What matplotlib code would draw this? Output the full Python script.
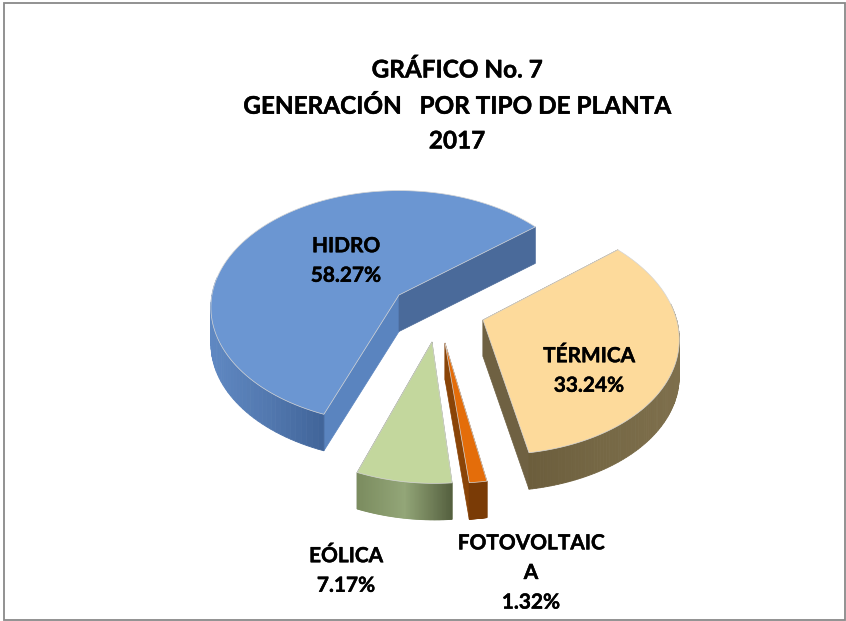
import numpy as np
import matplotlib
matplotlib.use('Agg')
import matplotlib.pyplot as plt
import matplotlib.patheffects as pe
from matplotlib.colors import to_rgb
from matplotlib.patches import Rectangle

plt.rcParams['font.family'] = ['Lato', 'DejaVu Sans']

labels = ['HIDRO', 'TÉRMICA', 'FOTOVOLTAIC\nA', 'EÓLICA']
values = [58.27, 33.24, 1.32, 7.17]
title_lines = ['GRÁFICO No. 7', 'GENERACIÓN   POR TIPO DE PLANTA', '2017']

# pie layout in pixels, first slice ends at start_angle going clockwise
start_angle = 51.0
apex = [(399, 295), (483, 320), (445, 343), (432, 342)]
scale = [0.995, 1.03, 1.0, 1.0]
shear = [0.0, 0.08, 0.05, 0.02]
ry = [116, 116, 122, 123]
persp = [0.106, 0.11, 0.13, 0.13]
rx, depth = 188, 36.5
label_pos = [(346, 261), (589, 371), (531, 573), (346, 571)]

top_colors = ['#6b96d2', '#fdda9b', '#e46d0a', '#c3d79d']
arc_colors = [['#5f88c2', '#5379b0', '#41659a'],
              ['#7e6f4c', '#766845', '#6b5d3c'],
              ['#7a3b06', '#7a3b06', '#7a3b06'],
              ['#7b8c5f', '#93a678', '#55603f']]
start_face = ['#5a84bf', '#6f6142', '#7a3b06', '#7b8c5f']
end_face = ['#4a6a9a', '#6f6142', '#8a4407', '#55603f']


def project(i, theta):
    t = np.radians(theta)
    x, y = np.sin(t) * scale[i], -np.cos(t) * scale[i]
    s = 1 / (1 - persp[i] * y)
    dy = ry[i] * y * s
    return apex[i][0] + rx * x * s + shear[i] * dy, apex[i][1] + dy


def blend(stops, f):
    pts = np.array([to_rgb(c) for c in stops])
    return [np.interp(f, np.linspace(0, 1, len(pts)), pts[:, k]) for k in range(3)]


fig = plt.figure(figsize=(8.46, 6.21), dpi=100)
ax = fig.add_axes([0, 0, 1, 1])
ax.set_xlim(0, 846)
ax.set_ylim(621, 0)
ax.axis('off')
ax.add_patch(Rectangle((4, 3), 841, 617, fc='white', ec='#898989', lw=1.3))

# angle span of each slice from the values
spans = [(start_angle - values[0] * 3.6, start_angle)]
for v in values[1:]:
    spans.append((spans[-1][1], spans[-1][1] + v * 3.6))

for i, (a0, a1) in enumerate(spans):
    th = np.linspace(a0, a1, 120)
    px, py = project(i, th)
    ax0, ay0 = apex[i]

    # radial faces first, then the rim
    ax.fill([ax0, px[0], px[0], ax0], [ay0, py[0], py[0] + depth, ay0 + depth],
            color=start_face[i], lw=0.5)
    ax.fill([ax0, px[-1], px[-1], ax0], [ay0, py[-1], py[-1] + depth, ay0 + depth],
            color=end_face[i], lw=0.5)
    rim = np.cos(np.radians(th)) < 0.15
    xr = px[rim]
    for k in range(len(th) - 1):
        if rim[k]:
            f = (px[k] - xr.min()) / (xr.max() - xr.min())
            if i == 1:
                f = 1 - f
            ax.fill([px[k], px[k + 1], px[k + 1], px[k]],
                    [py[k], py[k + 1], py[k + 1] + depth, py[k] + depth],
                    color=blend(arc_colors[i], f), lw=0.6)

    ax.fill(np.r_[ax0, px], np.r_[ay0, py], fc=top_colors[i], ec='#d5d5d5', lw=0.5, joinstyle='round')

bold = [pe.withStroke(linewidth=0.3, foreground='black')]
for (x, y), name, v in zip(label_pos, labels, values):
    ax.text(x, y, f'{name}\n{v:.2f}%', ha='center', va='center', fontsize=15,
            fontweight='bold', color='black', linespacing=1.6, path_effects=bold)

for y, line in zip([70, 106, 141], title_lines):
    ax.text(457, y, line, ha='center', va='center', fontsize=17.5, fontweight='bold',
            color='black', path_effects=bold)

fig.savefig('out.png', dpi=100)
